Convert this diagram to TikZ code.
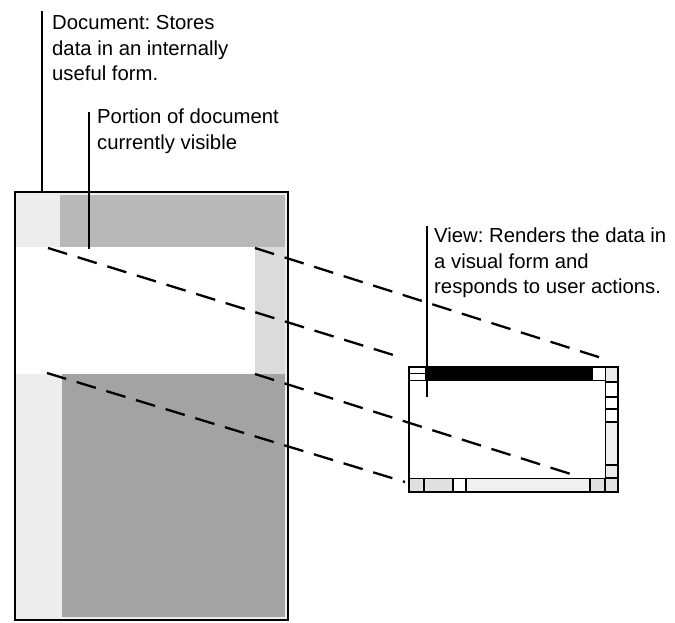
\documentclass[tikz,border=0pt]{standalone}
\usepackage{fontspec}
\setmainfont{Liberation Sans}
\frenchspacing
\usepackage{xcolor}
\usepackage{tikz}
\usetikzlibrary{positioning,calc}

\tikzset{
  leader/.style={line width=1.3pt},
  proj/.style={line width=2.3pt, dash pattern=on 20pt off 11pt},
  callout/.style={font=\fontsize{20.3}{25.5}\selectfont, align=left, anchor=north west, inner sep=0pt},
  sbox/.style={draw, line width=1pt},
}

\begin{document}
\begin{tikzpicture}[x=1pt, y=-1pt]
  \useasboundingbox (0,0) rectangle (675,623);

  % Document page with its grey tone
  \fill[black!7] (15,192) rectangle (288,620);
  \fill[black!28] (60,195) rectangle (285,247);
  \fill[black!14] (255,247) rectangle (285,374);
  \fill[black!36] (62,374) rectangle (285,617);
  \fill[white] (16,247) rectangle (255,374);
  \draw[line width=1.8pt] (15,192) rectangle (288,620);

  % corners of the visible part
  \coordinate (vis-nw) at (48,248);
  \coordinate (vis-ne) at (255,248);
  \coordinate (vis-sw) at (47,373);
  \coordinate (vis-se) at (255,374);

  % View window
  \draw[line width=1.5pt, fill=white] (409,367) rectangle (618,492);
  \fill[black] (425,367) rectangle (592,380); % title bar
  \draw[sbox] (409,367) rectangle (425,380);
  \draw[line width=1pt] (409,373.5) -- (425,373.5); % close box
  \draw[sbox] (592,367) rectangle (605,380);
  \draw[line width=1pt] (409,380) -- (605,380);
  % vertical scroll bar
  \draw[sbox, fill=black!8] (605,367) rectangle (618,381);
  \draw[sbox] (605,382) rectangle (618,396);
  \draw[sbox] (605,397) rectangle (618,408);
  \draw[sbox] (605,409) rectangle (618,421);
  \draw[sbox, fill=black!6] (605,422) rectangle (618,464);
  \draw[sbox, fill=black!8] (605,465) rectangle (618,477);
  \draw[sbox, fill=black!12] (605,478) rectangle (618,492);
  % horizontal scroll bar
  \draw[sbox, fill=black!12] (409,478) rectangle (423,492);
  \draw[sbox, fill=black!12] (424,478) rectangle (452,492);
  \draw[sbox] (453,478) rectangle (465,492);
  \draw[sbox, fill=black!6] (466,478) rectangle (589,492);
  \draw[sbox, fill=black!12] (590,478) rectangle (604,492);
  \draw[line width=1.5pt] (409,367) rectangle (618,492);

  % ends of the projection lines
  \coordinate (win-nw) at (403,358);
  \coordinate (win-ne) at (608,360);
  \coordinate (win-sw) at (405,482);
  \coordinate (win-se) at (577,476);

  % Projection lines
  \draw[proj] (vis-nw) -- (win-nw);
  \draw[proj] (vis-ne) -- (win-ne);
  \draw[proj] (vis-sw) -- (win-sw);
  \draw[proj] (vis-se) -- (win-se);

  % Callouts
  \node[callout] (doctext) at (52,15.5) {Document: Stores\\data in an internally\\useful form.};
  \coordinate (doc-top) at (42,11);
  \coordinate (doc-edge) at (42,192);
  \draw[leader] (doc-top) -- (doc-edge);

  \node[callout] (parttext) at (97,109) {Portion of document\\currently visible};
  \coordinate (part-top) at (89,112);
  \draw[leader] (part-top) -- (89,249);

  \node[callout] (viewtext) at (434,228) {View: Renders the data in\\a visual form and\\responds to user actions.};
  \coordinate (view-top) at (427,226);
  \coordinate (view-end) at (427,397);
  \draw[leader] (view-top) -- (view-end);
\end{tikzpicture}
\end{document}
